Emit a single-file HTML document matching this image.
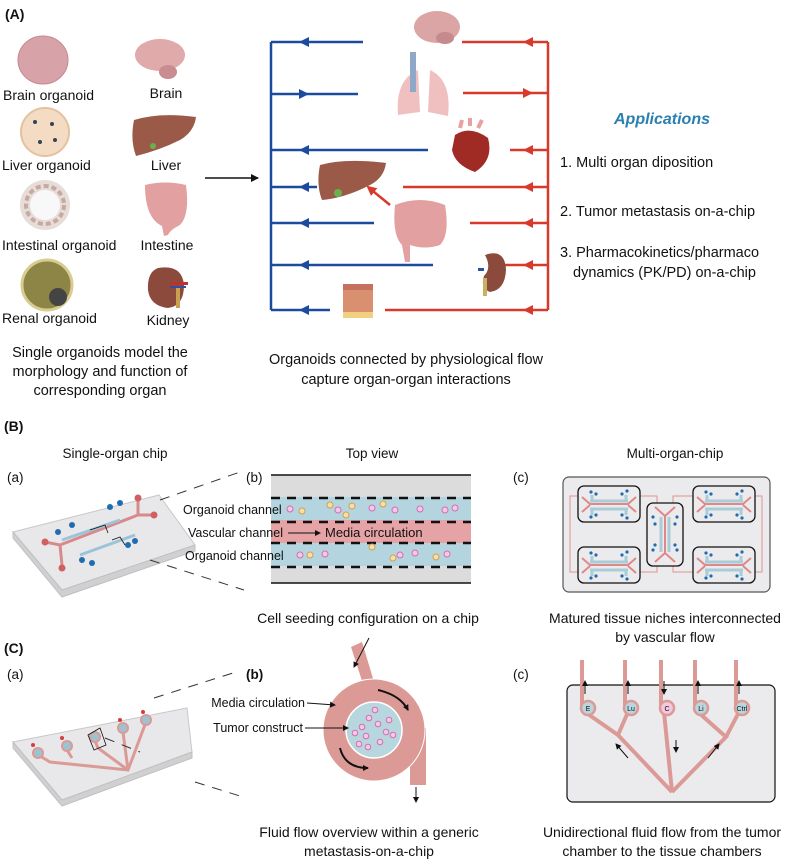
<!DOCTYPE html>
<html><head><meta charset="utf-8"><style>
html,body{margin:0;padding:0;background:#fff}
svg{display:block}
text{font-family:"Liberation Sans",Arial,sans-serif;fill:#111}
</style></head><body>
<svg width="800" height="861" viewBox="0 0 800 861" xmlns="http://www.w3.org/2000/svg">
<defs>
<marker id="ah" markerWidth="8" markerHeight="8" refX="7" refY="4" orient="auto" markerUnits="userSpaceOnUse"><path d="M0,0 L8,4 L0,8 z" fill="#111"/></marker>
<marker id="ahs" markerWidth="6" markerHeight="6" refX="5" refY="3" orient="auto" markerUnits="userSpaceOnUse"><path d="M0,0 L6,3 L0,6 z" fill="#111"/></marker>
<marker id="ahr" markerWidth="10" markerHeight="10" refX="8" refY="5" orient="auto" markerUnits="userSpaceOnUse"><path d="M0,0 L10,5 L0,10 z" fill="#d8392b"/></marker>
</defs>

<!-- ===== (A) ===== -->
<text x="5" y="19" font-size="14" font-weight="bold">(A)</text>

<ellipse cx="43" cy="60" rx="25" ry="24" fill="#d8a3a8" stroke="#c48890"/>
<text x="3" y="100" font-size="14">Brain organoid</text>
<ellipse cx="160" cy="55" rx="25" ry="16" fill="#e0a9aa"/><ellipse cx="168" cy="72" rx="9" ry="7" fill="#c98c90"/>
<text x="166" y="98" font-size="14" text-anchor="middle">Brain</text>

<circle cx="45" cy="132" r="24" fill="#f4dcc4" stroke="#e3c2a0" stroke-width="2"/>
<circle cx="35" cy="122" r="2" fill="#345"/><circle cx="52" cy="124" r="2" fill="#345"/><circle cx="40" cy="142" r="2" fill="#345"/><circle cx="55" cy="140" r="2" fill="#345"/>
<text x="2" y="170" font-size="14">Liver organoid</text>
<path d="M134,120 Q160,112 196,117 Q194,132 180,140 Q160,150 136,156 Q130,140 134,120z" fill="#9b5a48"/>
<circle cx="153" cy="146" r="3" fill="#6ab04c"/>
<text x="166" y="170" font-size="14" text-anchor="middle">Liver</text>

<circle cx="45" cy="205" r="25" fill="#e6ddd8"/><circle cx="45" cy="205" r="15" fill="#f8f8f8"/>
<circle cx="45" cy="205" r="19" fill="none" stroke="#c8a8a0" stroke-width="4" stroke-dasharray="5,3"/>
<text x="2" y="250" font-size="14">Intestinal organoid</text>
<path d="M145,185 Q165,180 186,185 Q190,215 180,225 Q170,230 168,235 L164,236 L162,226 Q145,218 145,185z" fill="#e3a0a0"/>
<text x="167" y="250" font-size="14" text-anchor="middle">Intestine</text>

<circle cx="47" cy="285" r="25" fill="#8c8545" stroke="#d8cc90" stroke-width="3"/>
<circle cx="58" cy="297" r="9" fill="#444"/>
<text x="2" y="323" font-size="14">Renal organoid</text>
<path d="M158,268 Q182,264 184,285 Q184,306 168,308 Q150,306 148,290 Q147,272 158,268z" fill="#8b4a3c"/>
<rect x="170" y="282" width="18" height="3" fill="#c03030"/><rect x="170" y="286" width="16" height="2" fill="#3050a0"/><rect x="176" y="288" width="4" height="20" fill="#c8a050"/>
<text x="168" y="325" font-size="14" text-anchor="middle">Kidney</text>

<text x="100" y="357" font-size="14.5" text-anchor="middle">Single organoids model the</text>
<text x="100" y="376" font-size="14.5" text-anchor="middle">morphology and function of</text>
<text x="100" y="395" font-size="14.5" text-anchor="middle">corresponding organ</text>

<line x1="205" y1="178" x2="258" y2="178" stroke="#111" stroke-width="1.5" marker-end="url(#ah)"/>

<g stroke="#1c4a9c" stroke-width="2.5" fill="none">
<line x1="271" y1="42" x2="271" y2="310"/>
<line x1="271" y1="42" x2="363" y2="42"/>
<line x1="271" y1="94" x2="358" y2="94"/>
<line x1="271" y1="150" x2="428" y2="150"/>
<line x1="271" y1="187" x2="317" y2="187"/>
<line x1="271" y1="223" x2="374" y2="223"/>
<line x1="271" y1="265" x2="433" y2="265"/>
<line x1="271" y1="310" x2="330" y2="310"/>
</g>
<g fill="#1c4a9c">
<path d="M299,42 l10,-5 v10z"/><path d="M309,94 l-10,-5 v10z"/><path d="M299,150 l10,-5 v10z"/><path d="M299,187 l10,-5 v10z"/><path d="M299,223 l10,-5 v10z"/><path d="M299,265 l10,-5 v10z"/><path d="M299,310 l10,-5 v10z"/>
</g>
<g stroke="#d8392b" stroke-width="2.5" fill="none">
<line x1="548" y1="42" x2="548" y2="310"/>
<line x1="462" y1="42" x2="548" y2="42"/>
<line x1="463" y1="93" x2="548" y2="93"/>
<line x1="510" y1="150" x2="548" y2="150"/>
<line x1="403" y1="187" x2="548" y2="187"/>
<line x1="470" y1="223" x2="548" y2="223"/>
<line x1="505" y1="265" x2="548" y2="265"/>
<line x1="385" y1="310" x2="548" y2="310"/>
</g>
<g fill="#d8392b">
<path d="M523,42 l10,-5 v10z"/><path d="M533,93 l-10,-5 v10z"/><path d="M523,150 l10,-5 v10z"/><path d="M523,187 l10,-5 v10z"/><path d="M523,223 l10,-5 v10z"/><path d="M523,265 l10,-5 v10z"/><path d="M523,310 l10,-5 v10z"/>
</g>

<ellipse cx="437" cy="27" rx="23" ry="16" fill="#dba4a5"/><ellipse cx="445" cy="38" rx="9" ry="6" fill="#c48a8d"/>
<path d="M398,115 Q395,80 418,70 L420,112z M428,112 L430,70 Q452,80 448,116z" fill="#f0c0c0"/>
<rect x="410" y="52" width="6" height="40" fill="#8fa8c8"/>
<path d="M455,135 Q470,125 488,138 Q494,160 475,172 Q455,165 452,150z" fill="#a02a24"/>
<path d="M460,128 L462,120 M470,126 L470,118 M478,128 L482,120" stroke="#e8a0a0" stroke-width="4"/>
<path d="M320,165 Q345,158 386,163 Q384,178 370,185 Q345,198 322,200 Q316,185 320,165z" fill="#9b5a48"/>
<circle cx="338" cy="193" r="4" fill="#6ab04c"/>
<line x1="390" y1="205" x2="368" y2="187" stroke="#d8392b" stroke-width="2.5" marker-end="url(#ahr)"/>
<path d="M395,205 Q420,195 445,205 Q450,235 440,245 Q425,250 410,245 L410,262 L405,262 L402,245 Q392,235 395,205z" fill="#e3a0a0"/>
<path d="M485,255 Q505,248 506,270 Q505,290 490,292 Q480,288 484,276 Q492,268 485,255z" fill="#8b4a3c"/>
<rect x="478" y="268" width="6" height="3" fill="#3050a0"/><rect x="483" y="278" width="4" height="18" fill="#c8b060"/>
<rect x="343" y="284" width="30" height="34" fill="#d9906e"/><rect x="343" y="284" width="30" height="6" fill="#c87060"/><rect x="343" y="312" width="30" height="6" fill="#f2d080"/>

<text x="406" y="364" font-size="14.5" text-anchor="middle">Organoids connected by physiological flow</text>
<text x="406" y="384" font-size="14.5" text-anchor="middle">capture organ-organ interactions</text>

<text x="662" y="124" font-size="16" font-weight="bold" font-style="italic" style="fill:#2a7fb0" text-anchor="middle">Applications</text>
<text x="560" y="167" font-size="14.5">1. Multi organ diposition</text>
<text x="560" y="216" font-size="14.5">2. Tumor metastasis on-a-chip</text>
<text x="560" y="257" font-size="14.5">3. Pharmacokinetics/pharmaco</text>
<text x="573" y="277" font-size="14.5">dynamics (PK/PD)  on-a-chip</text>

<!-- ===== (B) ===== -->
<text x="4" y="431" font-size="14" font-weight="bold">(B)</text>
<text x="115" y="458" font-size="13.5" text-anchor="middle">Single-organ chip</text>
<text x="372" y="458" font-size="13.5" text-anchor="middle">Top view</text>
<text x="675" y="458" font-size="13.5" text-anchor="middle">Multi-organ-chip</text>
<text x="7" y="482" font-size="13.5">(a)</text>
<text x="246" y="482" font-size="13.5">(b)</text>
<text x="513" y="482" font-size="13.5">(c)</text>

<path d="M13,532 L159,495 L195,545 L62,590z" fill="#e8e8ea" stroke="#c8c8c8"/>
<path d="M13,532 L13,538 L62,597 L195,551 L195,545 L62,590z" fill="#d0d0d2" stroke="#c0c0c0"/>
<g stroke="#d88a8a" stroke-width="3" fill="none">
<path d="M45,542 L60,545 L138,515 L152,515 M60,545 L62,565 M138,515 L138,500"/>
</g>
<g stroke="#9cc4d8" stroke-width="3" fill="none">
<path d="M62,540 L120,520 M80,555 L135,535"/>
</g>
<g fill="#1f6db0"><circle cx="58" cy="532" r="3"/><circle cx="72" cy="525" r="3"/><circle cx="110" cy="507" r="3"/><circle cx="120" cy="503" r="3"/><circle cx="82" cy="560" r="3"/><circle cx="92" cy="563" r="3"/><circle cx="128" cy="545" r="3"/><circle cx="135" cy="541" r="3"/></g>
<g fill="#d06060"><circle cx="45" cy="542" r="3.5"/><circle cx="62" cy="568" r="3.5"/><circle cx="138" cy="498" r="3.5"/><circle cx="154" cy="515" r="3.5"/></g>
<path d="M90,530 L105,525 L108,533 M112,540 L120,537 L125,545" stroke="#111" stroke-width="0.8" fill="none"/>
<g stroke="#333" stroke-width="1" stroke-dasharray="10,8"><line x1="160" y1="500" x2="240" y2="472"/><line x1="150" y1="560" x2="244" y2="590"/></g>

<rect x="271" y="475" width="200" height="108" fill="#dcdcdc"/>
<line x1="271" y1="475" x2="471" y2="475" stroke="#111" stroke-width="1.5"/>
<line x1="271" y1="583" x2="471" y2="583" stroke="#111" stroke-width="1.5"/>
<rect x="271" y="497" width="200" height="23" fill="#b4d4df"/>
<rect x="271" y="520" width="200" height="23" fill="#e5a3a5"/>
<rect x="271" y="543" width="200" height="23" fill="#b4d4df"/>
<g stroke="#111" stroke-width="2.5" stroke-dasharray="9,7"><line x1="271" y1="498" x2="471" y2="498"/><line x1="271" y1="522" x2="471" y2="522"/><line x1="271" y1="543" x2="471" y2="543"/><line x1="271" y1="567" x2="471" y2="567"/></g>
<g fill="#f4c8e8" stroke="#d070b0" stroke-width="1"><circle cx="290" cy="509" r="3"/><circle cx="338" cy="510" r="3"/><circle cx="372" cy="508" r="3"/><circle cx="395" cy="510" r="3"/><circle cx="420" cy="509" r="3"/><circle cx="445" cy="510" r="3"/><circle cx="455" cy="508" r="3"/><circle cx="300" cy="555" r="3"/><circle cx="325" cy="554" r="3"/><circle cx="400" cy="555" r="3"/><circle cx="415" cy="553" r="3"/><circle cx="447" cy="554" r="3"/></g>
<g fill="#f6dfa8" stroke="#d0a050" stroke-width="1"><circle cx="302" cy="511" r="3"/><circle cx="330" cy="505" r="3"/><circle cx="352" cy="506" r="3"/><circle cx="346" cy="515" r="3"/><circle cx="383" cy="504" r="3"/><circle cx="310" cy="555" r="3"/><circle cx="372" cy="547" r="3"/><circle cx="393" cy="558" r="3"/><circle cx="436" cy="557" r="3"/></g>
<text x="183" y="514" font-size="12.5">Organoid channel</text>
<text x="188" y="537" font-size="12.5">Vascular channel</text>
<line x1="288" y1="533" x2="320" y2="533" stroke="#111" stroke-width="1" marker-end="url(#ahs)"/>
<text x="325" y="537" font-size="13">Media circulation</text>
<text x="185" y="560" font-size="12.5">Organoid channel</text>

<rect x="563" y="477" width="207" height="115" rx="6" fill="#ebebed" stroke="#555" stroke-width="1.2"/>
<g stroke="#e09090" stroke-width="1" fill="none">
<path d="M578,496 L570,496 L570,572 L578,572 M640,496 L657,496 L657,505 M640,572 L657,572 L657,564"/>
<path d="M755,496 L762,496 L762,572 L755,572 M693,496 L673,496 L673,505 M693,572 L673,572 L673,564"/>
</g>
<g id="mod">
<rect x="578" y="486" width="62" height="36" rx="6" fill="#ebebed" stroke="#111" stroke-width="1.3"/>
<path d="M590,501 L628,501 M590,509 L628,509 M592,495 L592,501 M626,495 L626,501 M592,509 L592,515 M626,509 L626,515" stroke="#a8ccd8" stroke-width="3" fill="none"/>
<path d="M582,497 L590,504 L628,504 L636,497 M582,512 L590,505 M636,512 L628,505" stroke="#e08888" stroke-width="2" fill="none"/>
<g fill="#1f6db0"><circle cx="591" cy="492" r="1.6"/><circle cx="596" cy="494" r="1.6"/><circle cx="622" cy="494" r="1.6"/><circle cx="627" cy="491" r="1.6"/><circle cx="591" cy="517" r="1.6"/><circle cx="596" cy="515" r="1.6"/><circle cx="622" cy="515" r="1.6"/><circle cx="627" cy="518" r="1.6"/></g>
</g>
<use href="#mod" x="115" y="0"/>
<use href="#mod" x="0" y="61"/>
<use href="#mod" x="115" y="61"/>
<rect x="647" y="503" width="36" height="63" rx="6" fill="#ebebed" stroke="#111" stroke-width="1.3"/>
<path d="M661,517 L661,552 M669,517 L669,552" stroke="#a8ccd8" stroke-width="3"/>
<path d="M655,507 L665,516 L675,507 M665,516 L665,553 M655,562 L665,553 L675,562" stroke="#e08888" stroke-width="2" fill="none"/>
<g fill="#1f6db0"><circle cx="653" cy="517" r="1.6"/><circle cx="677" cy="517" r="1.6"/><circle cx="653" cy="550" r="1.6"/><circle cx="677" cy="550" r="1.6"/><circle cx="655" cy="524" r="1.6"/><circle cx="675" cy="524" r="1.6"/><circle cx="655" cy="545" r="1.6"/><circle cx="675" cy="545" r="1.6"/></g>

<text x="368" y="623" font-size="14" text-anchor="middle">Cell seeding configuration on a chip</text>
<text x="665" y="623" font-size="14" text-anchor="middle">Matured tissue niches interconnected</text>
<text x="665" y="642" font-size="14" text-anchor="middle">by vascular flow</text>

<!-- ===== (C) ===== -->
<text x="4" y="653" font-size="14" font-weight="bold">(C)</text>
<text x="7" y="679" font-size="13.5">(a)</text>
<text x="246" y="679" font-size="13.5" font-weight="bold">(b)</text>
<text x="513" y="679" font-size="13.5">(c)</text>

<path d="M13,742 L187,708 L192,752 L62,800z" fill="#e8e8ea" stroke="#c8c8c8"/>
<path d="M13,742 L13,748 L62,806 L192,758 L192,752 L62,800z" fill="#d0d0d2" stroke="#c0c0c0"/>
<g stroke="#dc9a96" stroke-width="3" fill="none">
<path d="M40,756 L50,762 L128,770 L146,722 M67,750 L72,758 M95,741 L98,748 L128,770 M123,732 L128,770 M146,722 L150,718"/>
</g>
<g fill="#9cc4d0" stroke="#dc9a96" stroke-width="2"><circle cx="38" cy="753" r="5"/><circle cx="67" cy="746" r="5"/><circle cx="95" cy="737" r="5"/><circle cx="123" cy="728" r="5"/><circle cx="146" cy="720" r="5"/></g>
<g fill="#d04040"><circle cx="33" cy="745" r="2"/><circle cx="62" cy="738" r="2"/><circle cx="120" cy="720" r="2"/><circle cx="143" cy="712" r="2"/></g>
<path d="M88,735 L100,728 L106,745 L94,750z" fill="none" stroke="#111" stroke-width="0.8"/>
<g stroke="#333" stroke-width="1" stroke-dasharray="10,8"><line x1="154" y1="698" x2="236" y2="672"/><line x1="195" y1="782" x2="240" y2="796"/><line x1="105" y1="738" x2="140" y2="752"/></g>

<path d="M351,647 L362,642 L375,685 L365,690z" fill="#dc9a96"/>
<rect x="410" y="728" width="16" height="57" fill="#dc9a96"/>
<circle cx="374" cy="730" r="51" fill="#dc9a96" stroke="#fff" stroke-width="1"/>
<circle cx="374" cy="730" r="28" fill="#b8d6de" stroke="#fff" stroke-width="1.5"/>
<g fill="#f4c8e8" stroke="#d070b0" stroke-width="1"><circle cx="369" cy="718" r="2.8"/><circle cx="375" cy="710" r="2.8"/><circle cx="378" cy="724" r="2.8"/><circle cx="362" cy="727" r="2.8"/><circle cx="386" cy="732" r="2.8"/><circle cx="366" cy="736" r="2.8"/><circle cx="355" cy="733" r="2.8"/><circle cx="380" cy="742" r="2.8"/><circle cx="368" cy="747" r="2.8"/><circle cx="393" cy="735" r="2.8"/><circle cx="359" cy="744" r="2.8"/><circle cx="389" cy="720" r="2.8"/></g>
<line x1="369" y1="638" x2="354" y2="667" stroke="#111" stroke-width="1" marker-end="url(#ahs)"/>
<line x1="416" y1="787" x2="416" y2="802" stroke="#111" stroke-width="1" marker-end="url(#ahs)"/>
<path d="M378,690 Q400,695 408,710" stroke="#111" stroke-width="2" fill="none" marker-end="url(#ahs)"/>
<path d="M340,748 Q345,768 368,768" stroke="#111" stroke-width="2" fill="none" marker-end="url(#ahs)"/>
<text x="305" y="707" font-size="12.5" text-anchor="end">Media circulation</text>
<line x1="307" y1="703" x2="335" y2="705" stroke="#111" stroke-width="1" marker-end="url(#ahs)"/>
<text x="303" y="732" font-size="12.5" text-anchor="end">Tumor construct</text>
<line x1="305" y1="728" x2="348" y2="728" stroke="#111" stroke-width="1" marker-end="url(#ahs)"/>

<rect x="567" y="685" width="208" height="117" rx="6" fill="#ebebed" stroke="#111" stroke-width="1.2"/>
<g stroke="#dc9a96" stroke-width="4" fill="none">
<path d="M672,792 L618,735 L585,712 M618,735 L628,712 M672,792 L664,712 M672,792 L726,737 L698,712 M726,737 L739,712"/>
<path d="M582,660 L582,705 M625,660 L625,705 M661,660 L661,705 M695,660 L695,705 M736,660 L736,705"/>
</g>
<g stroke="#dc9a96" stroke-width="2.5">
<circle cx="588" cy="708" r="7" fill="#b8d6de"/><circle cx="631" cy="708" r="7" fill="#b8d6de"/><circle cx="667" cy="708" r="7" fill="#f2c8e0"/><circle cx="701" cy="708" r="7" fill="#b8d6de"/><circle cx="742" cy="708" r="7" fill="#b8d6de"/>
</g>
<g font-family="Liberation Serif,serif" font-size="7" text-anchor="middle"><text x="588" y="711">E</text><text x="631" y="711">Lu</text><text x="667" y="711">C</text><text x="701" y="711">Li</text><text x="742" y="711">Ctrl</text></g>
<g stroke="#111" stroke-width="1" fill="none">
<line x1="585" y1="694" x2="585" y2="681" marker-end="url(#ahs)"/>
<line x1="628" y1="694" x2="628" y2="681" marker-end="url(#ahs)"/>
<line x1="664" y1="681" x2="664" y2="694" marker-end="url(#ahs)"/>
<line x1="698" y1="694" x2="698" y2="681" marker-end="url(#ahs)"/>
<line x1="739" y1="694" x2="739" y2="681" marker-end="url(#ahs)"/>
<line x1="676" y1="740" x2="676" y2="752" marker-end="url(#ahs)"/>
<line x1="628" y1="758" x2="616" y2="744" marker-end="url(#ahs)"/>
<line x1="708" y1="758" x2="719" y2="744" marker-end="url(#ahs)"/>
</g>

<text x="369" y="837" font-size="14" text-anchor="middle">Fluid flow overview within a generic</text>
<text x="369" y="856" font-size="14" text-anchor="middle">metastasis-on-a-chip</text>
<text x="662" y="837" font-size="14" text-anchor="middle">Unidirectional fluid flow from the tumor</text>
<text x="662" y="856" font-size="14" text-anchor="middle">chamber to the tissue chambers</text>
</svg>
</body></html>
